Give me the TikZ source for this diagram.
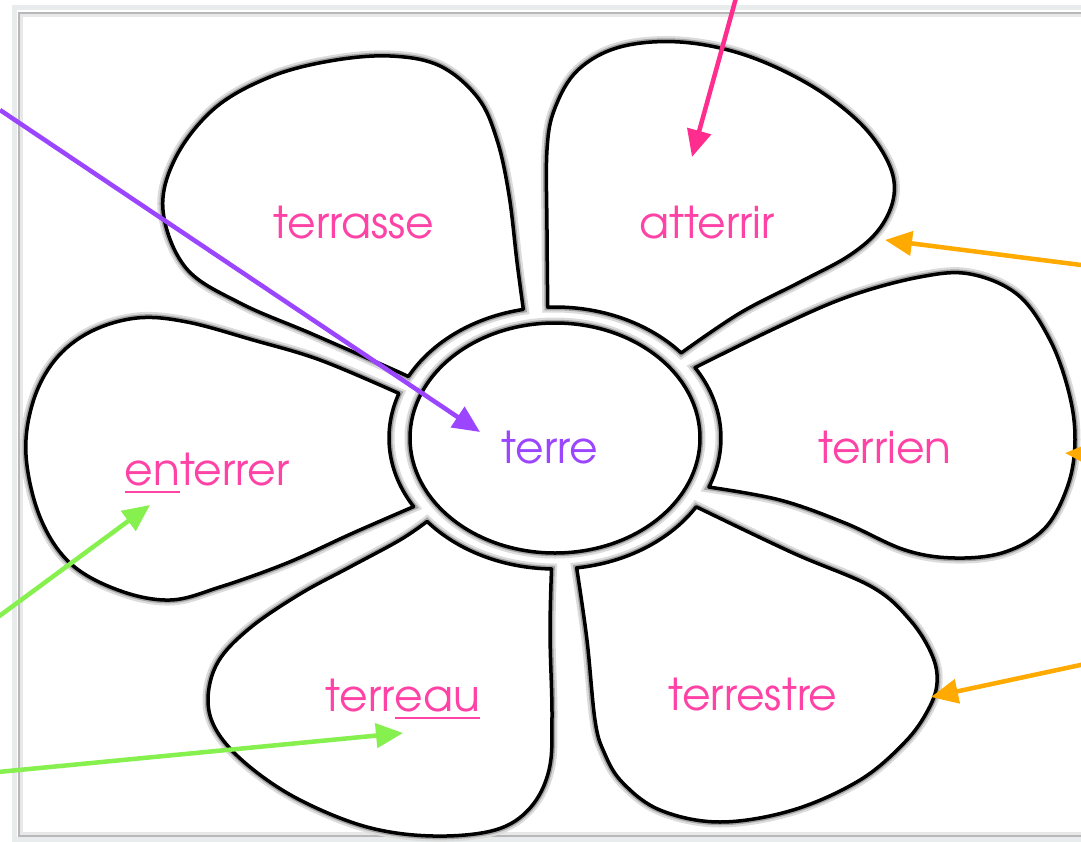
\documentclass[tikz,border=0pt]{standalone}
\usepackage{fontspec}
\setmainfont{TeX Gyre Adventor}
\usetikzlibrary{arrows.meta}

\definecolor{wordpink}{HTML}{FF42A6}
\definecolor{arrowpink}{HTML}{FF2E8E}
\definecolor{wordpurple}{HTML}{9B45FF}
\definecolor{arrowgreen}{HTML}{86F04E}
\definecolor{arroworange}{HTML}{FFAA00}
\definecolor{framegrey}{HTML}{E8ECEC}

\newcommand{\wordpart}[1]{\setbox0\hbox{#1}\rlap{\rule[-2.4pt]{\wd0}{0.6pt}}\box0}

\begin{document}
\begin{tikzpicture}[x=0.01cm, y=-0.01cm]
        \tikzset{
          petal/.style={preaction={draw=black!14, line width=0.11cm},
                        preaction={draw=black!36, line width=0.065cm},
                        fill=white, draw=black, line width=0.035cm, line join=round},
          word/.style={anchor=base, inner sep=0pt, text=wordpink, font=\fontsize{12.5}{14}\selectfont},
          pointer/.style={line width=0.045cm, -{Triangle[length=0.27cm, width=0.24cm]}}
        }
        \useasboundingbox (0,0) rectangle (1081,842);

        \draw[framegrey, line width=0.05cm] (14.5,7.5) rectangle (1100,839.5);
        \draw[black!28, line width=0.02cm] (19,13) rectangle (1100,836);
        \draw[black!9, line width=0.03cm] (21.5,15.5) rectangle (1100,833.5);

        \coordinate (c) at (555,438);
        \path (c) ++(-101:166 and 131) coordinate (terrasse_a)
              (c) ++(-152:166 and 131) coordinate (terrasse_b)
              (c) ++(-92.5:166 and 131) coordinate (atterrir_a)
              (c) ++(-40.5:166 and 131) coordinate (atterrir_b)
              (c) ++(-32.5:166 and 131) coordinate (terrien_a)
              (c) ++(22:166 and 131) coordinate (terrien_b)
              (c) ++(31.7:166 and 131) coordinate (terrestre_a)
              (c) ++(82.5:166 and 131) coordinate (terrestre_b)
              (c) ++(91.2:166 and 131) coordinate (terreau_a)
              (c) ++(140.4:166 and 131) coordinate (terreau_b)
              (c) ++(148.4:166 and 131) coordinate (enterrer_a)
              (c) ++(199.9:166 and 131) coordinate (enterrer_b);

        \draw[petal] plot[smooth, tension=0.6] coordinates {(terrasse_a) (517,262) (509,195) (497,140) (478,98)
          (440,66) (390,56) (330,61) (270,77) (215,108) (176,157) (163,210) (186,268) (240,303) (310,333) (383,365) (terrasse_b)}
          arc[start angle=-152, end angle=-101, x radius=166, y radius=131] -- cycle;
        \draw[petal] plot[smooth, tension=0.6] coordinates {(atterrir_a) (547,230) (547,150) (555,108) (578,70) (620,47)
          (680,42) (745,55) (810,85) (860,123) (888,162) (894,195) (880,228) (850,255) (800,282) (740,313) (atterrir_b)}
          arc[start angle=-40.5, end angle=-92.5, x radius=166, y radius=131] -- cycle;
        \draw[petal] plot[smooth, tension=0.6] coordinates {(terrien_a) (780,326) (850,296) (920,277) (970,274) (1018,295)
          (1050,340) (1069,393) (1075,440) (1068,485) (1045,528) (1005,552) (955,558) (905,550) (845,523) (780,500) (terrien_b)}
          arc[start angle=22, end angle=-32.5, x radius=166, y radius=131] -- cycle;
        \draw[petal] plot[smooth, tension=0.6] coordinates {(terrestre_a) (793,553) (872,587) (910,620) (932,655) (937,683)
          (928,710) (905,742) (860,780) (793,810) (720,822) (660,810) (622,782) (604,752) (595,720) (587,640) (terrestre_b)}
          arc[start angle=82.5, end angle=31.7, x radius=166, y radius=131] -- cycle;
        \draw[petal] plot[smooth, tension=0.6] coordinates {(terreau_a) (550,633) (552,717) (549,770) (530,808) (495,830)
          (433,836) (367,827) (300,800) (250,767) (218,733) (208,700) (218,662) (250,628) (300,594) (350,567) (400,540) (terreau_b)}
          arc[start angle=140.4, end angle=91.2, x radius=166, y radius=131] -- cycle;
        \draw[petal] plot[smooth, tension=0.6] coordinates {(enterrer_a) (353,533) (287,563) (220,587) (170,600) (118,590)
          (70,563) (40,517) (26,455) (33,402) (55,360) (90,332) (137,318) (187,322) (253,340) (320,360) (enterrer_b)}
          arc[start angle=199.9, end angle=148.4, x radius=166, y radius=131] -- cycle;
        \draw[petal] (c) ellipse[x radius=145, y radius=115];

        \node[word] (w_terrasse) at (354,238) {terrasse};
        \node[word] (w_atterrir) at (707,238) {atterrir};
        \node[word] (w_terrien) at (885,463) {terrien};
        \node[word, text=wordpurple] (w_terre) at (550,463) {terre};
        \node[word] (w_enterrer) at (207,485) {\wordpart{en}terrer};
        \node[word] (w_terreau) at (403,711) {terr\wordpart{eau}};
        \node[word] (w_terrestre) at (753,710) {terrestre};

        \coordinate (p_terre) at (0,110);
        \coordinate (t_terre) at (480,432);
        \coordinate (p_atterrir) at (736,-2);
        \coordinate (t_atterrir) at (692,157);
        \coordinate (p_orange1) at (1085,265.5);
        \coordinate (t_orange1) at (885,240);
        \coordinate (p_orange2) at (1120,456);
        \coordinate (t_orange2) at (1065,453);
        \coordinate (p_orange3) at (1085,664);
        \coordinate (t_orange3) at (931,697);
        \coordinate (p_enterrer) at (-2,617);
        \coordinate (t_enterrer) at (150,505);
        \coordinate (p_terreau) at (-2,772);
        \coordinate (t_terreau) at (403,733);

        \draw[pointer, wordpurple] (p_terre) -- (t_terre);
        \draw[pointer, arrowpink] (p_atterrir) -- (t_atterrir);
        \draw[pointer, arroworange] (p_orange1) -- (t_orange1);
        \draw[pointer, arroworange] (p_orange2) -- (t_orange2);
        \draw[pointer, arroworange] (p_orange3) -- (t_orange3);
        \draw[pointer, arrowgreen] (p_enterrer) -- (t_enterrer);
        \draw[pointer, arrowgreen] (p_terreau) -- (t_terreau);
\end{tikzpicture}
\end{document}
